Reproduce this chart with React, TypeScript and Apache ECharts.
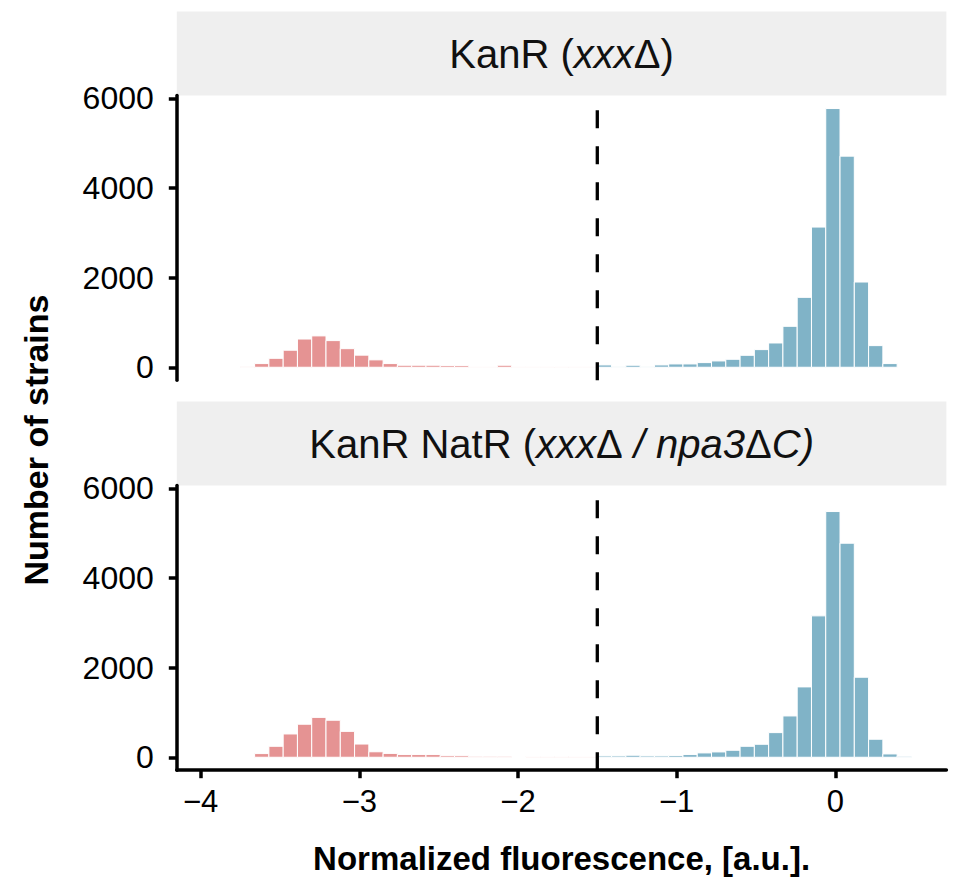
import React, { useEffect, useRef } from "react";
import * as echarts from "echarts";

// Histogram bins: width and the threshold that splits the two colours
const BIN_WIDTH = 0.09;
const THRESHOLD = -1.5;

// Counts per bin. Red bins run from left to right and end at THRESHOLD;
// blue bins start at THRESHOLD.
const kanRRed = [2, 0, 10, 82, 200, 380, 630, 700, 595, 415, 270, 165, 82, 45, 45, 45, 37, 37, 7, 7, 45, 7, 7, 7, 7, 7, 7];
const kanRBlue = [52, 10, 45, 10, 52, 74, 74, 104, 141, 178, 267, 394, 542, 914, 1560, 3128, 5773, 4711, 1902, 483, 82, 0];
const kanRNatRRed = [0, 0, 0, 82, 245, 520, 737, 890, 826, 578, 295, 122, 86, 60, 60, 60, 35, 35, 22, 22, 22, 0, 18, 18, 18, 18, 18];
const kanRNatRBlue = [30, 30, 45, 30, 30, 37, 60, 97, 119, 156, 245, 290, 550, 922, 1570, 3155, 5483, 4776, 1786, 402, 74, 22];

// Strip titles as [text, style] pieces: n = plain, it = italic, g = upright Greek
const panelTitles: [string, string][][] = [
  [["KanR (", "n"], ["xxx", "it"], ["Δ", "g"], [")", "n"]],
  [["KanR NatR (", "n"], ["xxx", "it"], ["Δ", "g"], [" / npa3", "it"], ["Δ", "g"], ["C)", "it"]],
];

const xTickValues = [-4, -3, -2, -1, 0];
const xTickLabels = ["−4", "−3", "−2", "−1", "0"];
const yTickValues = [0, 2000, 4000, 6000];
const yTickLabels = ["0", "2000", "4000", "6000"];

const xTitle = "Normalized fluorescence, [a.u.].";
const yTitle = "Number of strains";

const RED = "#E59393";
const BLUE = "#80B3C7";

function bins(red: number[], blue: number[]) {
  const out: { v: [number, number, number]; color: string }[] = [];
  red.forEach((c, i) => {
    const x0 = THRESHOLD - (red.length - i) * BIN_WIDTH;
    out.push({ v: [x0, x0 + BIN_WIDTH, c], color: RED });
  });
  blue.forEach((c, i) => {
    const x0 = THRESHOLD + i * BIN_WIDTH;
    out.push({ v: [x0, x0 + BIN_WIDTH, c], color: BLUE });
  });
  return out;
}

export default function App() {
  const ref = useRef<HTMLDivElement>(null);
  useEffect(() => {
    if (!ref.current) return;
    const chart = echarts.init(ref.current, null, { renderer: "svg" });

    const panels = [bins(kanRRed, kanRBlue), bins(kanRNatRRed, kanRNatRBlue)];
    const xLo = THRESHOLD - kanRRed.length * BIN_WIDTH;
    const xHi = THRESHOLD + Math.max(kanRBlue.length, kanRNatRBlue.length) * BIN_WIDTH;
    const xPad = (xHi - xLo) * 0.05;
    const xMin = xLo - xPad;
    const xMax = xHi + xPad;
    const maxCount = Math.max(...kanRBlue, ...kanRNatRBlue, ...kanRRed, ...kanRNatRRed);
    const yMin = -maxCount * 0.05;
    const yMax = maxCount * 1.05;

    const gridLeft = 176.8;
    const gridWidth = 769.6;
    const gridTops = [95.6, 485.6];
    const gridH = 284.6;
    const stripH = 84;
    const font = "'Liberation Sans', Arial, sans-serif";

    const axisLineStyle = { color: "#000", width: 3.5 };

    const option: any = {
      animation: false,
      backgroundColor: "#fff",
      grid: gridTops.map((t) => ({ left: gridLeft, top: t, width: gridWidth, height: gridH })),
      xAxis: gridTops.map((_, i) => ({
        type: "value",
        gridIndex: i,
        min: xMin,
        max: xMax,
        show: i === 1,
        splitLine: { show: false },
        axisLine: { show: true, onZero: false, lineStyle: axisLineStyle },
        axisTick: { show: true, length: 8, lineStyle: axisLineStyle, customValues: xTickValues },
        axisLabel: {
          customValues: xTickValues,
          margin: 16,
          fontSize: 31,
          color: "#000",
          fontFamily: font,
          formatter: (v: number) => {
            const idx = xTickValues.findIndex((t) => Math.abs(t - v) < 1e-9);
            return idx >= 0 ? xTickLabels[idx] : "";
          },
        },
      })),
      yAxis: gridTops.map((_, i) => ({
        type: "value",
        gridIndex: i,
        min: yMin,
        max: yMax,
        splitLine: { show: false },
        axisLine: { show: true, onZero: false, lineStyle: axisLineStyle },
        axisTick: { show: true, length: 8, lineStyle: axisLineStyle, customValues: yTickValues },
        axisLabel: {
          customValues: yTickValues,
          margin: 23,
          fontSize: 32,
          color: "#000",
          fontFamily: font,
          formatter: (v: number) => {
            const idx = yTickValues.findIndex((t) => Math.abs(t - v) < 1e-6);
            return idx >= 0 ? yTickLabels[idx] : "";
          },
        },
      })),
      series: [
        ...panels.map((data, i) => ({
          type: "custom",
          xAxisIndex: i,
          yAxisIndex: i,
          clip: false,
          data: data.map((d) => d.v),
          encode: { x: [0, 1], y: 2 },
          renderItem: (params: any, api: any) => {
            const c = api.value(2);
            if (!c) return null;
            const p0 = api.coord([api.value(0), 0]);
            const p1 = api.coord([api.value(1), c]);
            return {
              type: "rect",
              shape: { x: p0[0], y: p1[1], width: p1[0] - p0[0], height: p0[1] - p1[1] },
              style: { fill: data[params.dataIndex].color, stroke: "#ffffff", lineWidth: 1 },
            };
          },
        })),
        ...gridTops.map((_, i) => ({
          type: "line",
          xAxisIndex: i,
          yAxisIndex: i,
          data: [
            [THRESHOLD, yMin],
            [THRESHOLD, yMax],
          ],
          symbol: "none",
          z: 5,
          lineStyle: { color: "#000", width: 3.3, type: [18, 18] },
        })),
      ],
      graphic: [
        ...gridTops.map((t, i) => ({
          type: "group",
          children: [
            {
              type: "rect",
              shape: { x: gridLeft, y: t - stripH, width: gridWidth, height: stripH },
              style: { fill: "#EFEFEF" },
            },
            {
              type: "text",
              x: gridLeft + gridWidth / 2,
              y: t - stripH / 2,
              style: {
                text: panelTitles[i].map(([s, k]) => `{${k}|${s}}`).join(""),
                align: "center",
                verticalAlign: "middle",
                rich: {
                  n: { fontSize: 40, fontFamily: font, fill: "#111" },
                  it: { fontSize: 40, fontFamily: font, fontStyle: "italic", fill: "#111" },
                  g: { fontSize: 40, fontFamily: font, fill: "#111" },
                },
              },
            },
          ],
        })),
        {
          type: "text",
          x: 36,
          y: 440,
          rotation: Math.PI / 2,
          style: {
            text: yTitle,
            align: "center",
            verticalAlign: "middle",
            fontSize: 34,
            fontWeight: "bold",
            fontFamily: font,
            fill: "#000",
          },
        },
        {
          type: "text",
          x: gridLeft + gridWidth / 2,
          y: 858,
          style: {
            text: xTitle,
            align: "center",
            verticalAlign: "middle",
            fontSize: 33,
            fontWeight: "bold",
            fontFamily: font,
            fill: "#000",
          },
        },
      ],
    };
    chart.setOption(option);
    return () => chart.dispose();
  }, []);
  return (
    <div
      ref={ref}
      style={{ position: "fixed", left: 0, top: 0, width: 954, height: 888 }}
    />
  );
}
